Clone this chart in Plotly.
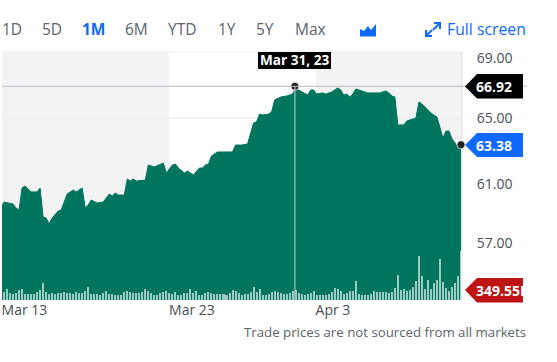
import plotly.graph_objects as go

FONT = "Open Sans"
GREEN = "#00755d"
GREY_TXT = "#5b636a"
AXIS_TXT = "#464e56"
BLUE = "#0f69ff"

# Session number and closing price for each vertex of the area
price_sessions = [-1,0,3,4,5,6,7,9,11,12,13,14,15,16,18,19,21,22,23,24,26,27,28,29,31,33,35,36,37,38,40,41,42,43,44,47,48,50,52,53,54,56,57,58,60,61,63,65,66,67,68,69,71,72,76,77,79,81,83,84,85,86,88,89,90,92,94,96,97,98,101,102,103,104,106,107,109,111,112,113,114,115,116,117,119,121,122,124,125,127,128,129,130,131,133,134,137,138,139,142,144,146,147,148,149,151,152]
price_values = [59.55,59.91,59.79,59.55,59.42,60.76,60.88,60.52,60.52,60.76,59.0,58.94,58.58,58.94,59.36,59.42,60.39,60.5,60.64,60.52,60.76,59.55,59.73,60.03,59.85,59.91,60.39,60.27,60.45,60.33,60.33,61.3,61.18,61.3,61.18,61.24,62.15,62.03,62.21,62.27,61.67,62.15,62.21,61.97,61.67,61.79,61.55,61.97,61.97,62.15,62.21,62.7,62.94,62.94,62.94,63.36,63.36,63.42,64.7,64.76,65.24,65.18,65.24,65.36,66.09,66.27,66.33,66.45,66.82,66.7,66.39,66.7,66.7,66.45,66.52,66.45,66.58,66.82,66.7,66.39,66.45,66.27,66.45,66.76,66.64,66.52,66.52,66.52,66.52,66.64,66.52,66.33,66.27,64.58,64.58,64.82,65.0,65.97,65.85,65.3,65.06,63.79,64.21,64.21,63.73,63.24,63.15]

# Volume per session, thousands of shares (sessions 0..152)
volume_k = [290,385,235,210,235,350,375,210,220,220,
            220,280,350,585,280,220,235,210,235,255,
            270,245,235,220,280,245,245,305,455,210,
            220,220,185,255,325,210,210,175,175,185,
            270,305,270,255,235,235,280,375,325,245,185,
            165,245,280,315,245,210,280,175,185,235,
            255,375,235,305,175,175,245,270,255,210,
            200,200,210,175,235,360,325,245,175,210,
            220,280,455,290,395,185,185,210,290,315,
            270,245,220,220,245,315,350,235,210,165,200,
            245,325,175,165,165,165,200,270,420,375,
            315,200,245,305,305,665,200,175,165,165,
            200,305,290,290,270,270,235,280,430,865,
            340,375,325,350,445,665,1550,840,375,690,
            375,585,700,1425,620,410,325,445,585,830,1725]

x_tick_sessions = [6.8, 62.5, 109.4]
x_tick_labels = ["Mar 13", "Mar 23", "Apr 3"]
y_tick_values = [68.64, 65, 61, 57.42]
y_tick_labels = ["69.00", "65.00", "61.00", "57.00"]
range_buttons = [("1D", 2), ("5D", 42), ("1M", 82), ("6M", 125), ("YTD", 168), ("1Y", 218), ("5Y", 256), ("Max", 295)]

band_edges = [54.9, 103.8]
cross_session, cross_price, cross_date = 96.75, 66.92, "Mar 31, 23"
last_session, last_price = 152, 63.38
last_volume = "349.55K"

W, H = 557, 362
L, R, T, B = 2, 462, 52, 300
px = lambda v: (v - L) / (R - L)
py = lambda v: (B - v) / (B - T)


def path(points, close=True):
    s = "M" + " L".join(f"{px(a):.5f},{py(b):.5f}" for a, b in points)
    return s + (" Z" if close else "")


fig = go.Figure()
fig.add_trace(go.Scatter(x=price_sessions, y=price_values, mode="lines", fill="tozeroy",
                         fillcolor=GREEN, line=dict(color=GREEN, width=1), yaxis="y"))
fig.add_trace(go.Bar(x=list(range(len(volume_k))), y=volume_k, width=0.67,
                     marker=dict(color="rgba(255,255,255,0.62)", line_width=0), yaxis="y2"))
fig.add_trace(go.Scatter(x=[cross_session, last_session], y=[cross_price, last_price], mode="markers",
                         marker=dict(color="#222222", size=8, line=dict(color="rgba(255,255,255,0.7)", width=1)),
                         yaxis="y", cliponaxis=False))

shapes = [
    dict(type="rect", xref="paper", yref="paper", x0=0, x1=px(169), y0=0, y1=1, fillcolor="#f3f3f3", line_width=0, layer="below"),
    dict(type="rect", xref="x", x0=band_edges[1], x1=152.33, yref="paper", y0=0, y1=1, fillcolor="#f3f3f3", line_width=0, layer="below"),
    dict(type="line", xref="paper", x0=0, x1=1, yref="y", y0=65, y1=65, line=dict(color="#e7e7e9", width=1), layer="below"),
    dict(type="line", xref="paper", x0=0, x1=1, yref="paper", y0=1, y1=1, line=dict(color="#eeeeee", width=1), layer="below"),
    dict(type="line", xref="paper", x0=1, x1=1, yref="paper", y0=0, y1=1, line=dict(color="#dcdee2", width=1), layer="below"),
    dict(type="line", xref="paper", x0=0, x1=px(527), yref="y", y0=cross_price, y1=cross_price, line=dict(color="#b4b9c4", width=1)),
    dict(type="line", xref="x", x0=cross_session, x1=cross_session, yref="paper", y0=0, y1=py(86), line=dict(color="#b4b9c4", width=1.2)),
    # date flag
    dict(type="rect", xref="paper", yref="paper", x0=px(258), x1=px(331), y0=py(69), y1=py(52), fillcolor="#000000", line_width=0),
    # value flags
    dict(type="path", xref="paper", yref="paper", path=path([(465, 86.5), (477, 74), (523, 74), (523, 98.5), (477, 98.5)]), fillcolor="#000000", line_width=0),
    dict(type="path", xref="paper", yref="paper", path=path([(465, 145), (477, 133), (523, 133), (523, 157), (477, 157)]), fillcolor=BLUE, line_width=0),
    dict(type="path", xref="paper", yref="paper", path=path([(465, 290), (477, 278), (523, 278), (523, 302.5), (477, 302.5)]), fillcolor="#bf1414", line_width=0),
    # chart-type icon
    dict(type="path", xref="paper", yref="paper", path=path([(360, 36.5), (360, 29), (364, 31), (368, 26), (371, 30), (376, 24), (376, 36.5)]), fillcolor=BLUE, line_width=0),
    # full screen icon
    dict(type="path", xref="paper", yref="paper", path=path([(434, 23), (440, 23), (440, 29)], False), line=dict(color=BLUE, width=2)),
    dict(type="path", xref="paper", yref="paper", path=path([(439, 24), (433, 30)], False), line=dict(color=BLUE, width=2)),
    dict(type="path", xref="paper", yref="paper", path=path([(426, 30), (426, 36), (432, 36)], False), line=dict(color=BLUE, width=2)),
    dict(type="path", xref="paper", yref="paper", path=path([(427, 35), (432, 30)], False), line=dict(color=BLUE, width=2)),
]

annotations = []


def note(text, x, y, color, size, anchor="left", bold=False, **kw):
    annotations.append(dict(text=f"<b>{text}</b>" if bold else text, xref="paper", yref="paper", x=px(x), y=py(y),
                            xanchor=anchor, yanchor="middle", showarrow=False,
                            font=dict(family=FONT, size=size, color=color), borderpad=0, borderwidth=0, **kw))


for label, left in range_buttons:
    note(label, left, 29, BLUE if label == "1M" else GREY_TXT, 15.5, bold=(label == "1M"))
note("Full screen", 447, 29.5, BLUE, 15.8)
note("Trade prices are not sourced from all markets", 526, 332, GREY_TXT, 13.25, anchor="right")
note(cross_date, 294.5, 60, "#ffffff", 13.6, anchor="center", bold=True)
note(f"{cross_price:.2f}", 476, 86.5, "#ffffff", 14, bold=True)
note(f"{last_price:.2f}", 476, 145, "#ffffff", 14, bold=True)
note(last_volume, 476, 290, "#ffffff", 14, bold=True, width=47, align="left")

fig.update_layout(
    width=W, height=H, autosize=False,
    margin=dict(l=L, r=W - R, t=T, b=H - B, pad=0),
    paper_bgcolor="#ffffff", plot_bgcolor="#ffffff",
    showlegend=False, hovermode=False, bargap=0,
    xaxis=dict(range=[-0.67, 152.33], tickmode="array", tickvals=x_tick_sessions, ticktext=x_tick_labels,
               showgrid=False, zeroline=False, showline=False, ticks="", fixedrange=True,
               tickfont=dict(family=FONT, size=14, color=AXIS_TXT)),
    yaxis=dict(range=[53.97, 69.0], side="right", tickmode="array", tickvals=y_tick_values, ticktext=y_tick_labels,
               showgrid=False, zeroline=False, showline=False, ticks="outside", ticklen=11, tickcolor="rgba(0,0,0,0)",
               fixedrange=True, tickfont=dict(family=FONT, size=14, color=AXIS_TXT)),
    yaxis2=dict(range=[0, 8680], overlaying="y", visible=False, fixedrange=True),
    shapes=shapes, annotations=annotations,
)

fig.write_html("out.html", config={"displayModeBar": False},
               post_script="document.body.style.margin='0';document.documentElement.style.overflow='hidden';")
